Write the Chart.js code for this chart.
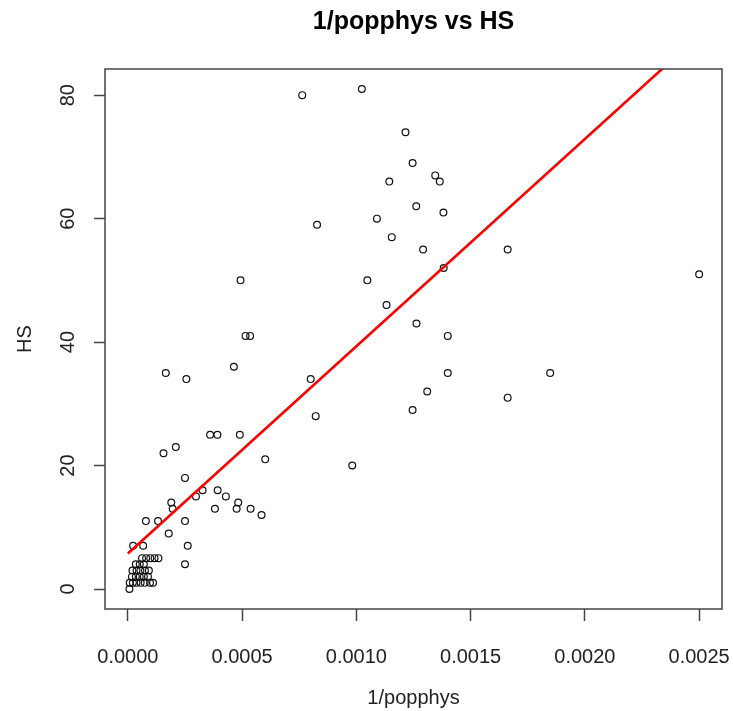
<!DOCTYPE html>
<html>
<head>
<meta charset="utf-8">
<script src="https://cdn.jsdelivr.net/npm/chart.js@4"></script>
<style>
  body { margin: 0; background: #fff; }
  #wrap { width: 733px; height: 711px; }
</style>
</head>
<body>
<div id="wrap"><canvas id="chart" width="733" height="711"></canvas></div>
<script>
// 1/popphys (x) and HS (y)
const popX = [
  0.000763, 0.001024, 0.001215, 0.001246, 0.001345, 0.001365, 0.001144, 0.001262,
  0.001381, 0.001090, 0.000828, 0.001155, 0.001292, 0.001662, 0.0025, 0.001382,
  0.000493, 0.001048, 0.001132, 0.000515, 0.000535, 0.001400, 0.001263, 0.000166,
  0.001400, 0.001848, 0.000256, 0.000800, 0.000464, 0.001310, 0.001662, 0.001246,
  0.000822, 0.000360, 0.000392, 0.000490, 0.000156, 0.000210, 0.000982, 0.000601,
  0.000250, 0.000327, 0.000393, 0.000298, 0.000429, 0.000190, 0.000483, 0.000196,
  0.000381, 0.000476, 0.000537, 0.000585, 0.000079, 0.000132, 0.000250, 0.000179,
  0.000023, 0.000067, 0.000262, 0.000250,
  0.000062, 0.000080, 0.000098, 0.000117, 0.000134,
  0.000035, 0.000052, 0.000070,
  0.000020, 0.000038, 0.000055, 0.000075, 0.000092,
  0.000018, 0.000035, 0.000052, 0.000070, 0.000088,
  0.000008, 0.000022, 0.000038, 0.000056, 0.000074, 0.000097, 0.000110,
  0.000007
];
const hsY = [
  80, 81, 74, 69, 67, 66, 66, 62,
  61, 60, 59, 57, 55, 55, 51, 52,
  50, 50, 46, 41, 41, 41, 43, 35,
  35, 35, 34, 34, 36, 32, 31, 29,
  28, 25, 25, 25, 22, 23, 20, 21,
  18, 16, 16, 15, 15, 14, 14, 13,
  13, 13, 13, 12, 11, 11, 11, 9,
  7, 7, 7, 4,
  5, 5, 5, 5, 5,
  4, 4, 4,
  3, 3, 3, 3, 3,
  2, 2, 2, 2, 2,
  1, 1, 1, 1, 1, 1, 1,
  0
];

// fitted line end points
const fitX = [0, 0.0025];
const fitY = [5.75, 89.7];

const tickX = [0, 0.0005, 0.001, 0.0015, 0.002, 0.0025];
const tickY = [0, 20, 40, 60, 80];

const points = popX.map((x, i) => ({ x: x, y: hsY[i] }));
const fitLine = fitX.map((x, i) => ({ x: x, y: fitY[i] }));

const FONT = "'Liberation Sans', Arial, sans-serif";

// box around plot + rotated y tick labels (R style)
const rPlotBits = {
  id: 'rPlotBits',
  afterDraw(chart) {
    const { ctx, chartArea } = chart;
    const ys = chart.scales.y;
    ctx.save();
    ctx.strokeStyle = '#444';
    ctx.lineWidth = 1.5;
    ctx.strokeRect(chartArea.left, chartArea.top,
      chartArea.right - chartArea.left, chartArea.bottom - chartArea.top);

    ctx.fillStyle = '#222';
    ctx.font = '20px ' + FONT;
    ctx.textAlign = 'center';
    ctx.textBaseline = 'middle';
    tickY.forEach(v => {
      const py = ys.getPixelForValue(v);
      ctx.save();
      ctx.translate(68, py);
      ctx.rotate(-Math.PI / 2);
      ctx.fillText(String(v), 0, 0);
      ctx.restore();
    });
    ctx.restore();
  }
};

new Chart(document.getElementById('chart'), {
  type: 'scatter',
  data: {
    datasets: [
      {
        label: 'fit',
        data: fitLine,
        showLine: true,
        borderColor: '#ff0000',
        borderWidth: 2.6,
        pointRadius: 0,
        clip: 0,
        order: 0
      },
      {
        label: 'HS',
        data: points,
        pointRadius: 3.4,
        pointBorderWidth: 1.2,
        pointBorderColor: '#111',
        pointBackgroundColor: 'rgba(0,0,0,0)',
        order: 1
      }
    ]
  },
  options: {
    responsive: false,
    animation: false,
    layout: { padding: { left: 0, right: 11, top: 0, bottom: 0 } },
    plugins: {
      legend: { display: false },
      tooltip: { enabled: false },
      title: {
        display: true,
        text: '1/popphys vs HS',
        fullSize: false,
        color: '#000',
        font: { family: FONT, size: 25, weight: 'bold' },
        padding: { top: 7, bottom: 32 }
      }
    },
    scales: {
      x: {
        type: 'linear',
        position: 'bottom',
        min: -0.0001,
        max: 0.0026,
        afterBuildTicks: s => { s.ticks = tickX.map(v => ({ value: v })); },
        afterFit: s => { s.height = 102; s.paddingLeft = 0; s.paddingRight = 0; },
        border: { display: false },
        grid: {
          drawOnChartArea: false,
          drawTicks: true,
          tickLength: 12,
          tickColor: '#444',
          tickWidth: 1.5
        },
        ticks: {
          color: '#222',
          font: { family: FONT, size: 20 },
          padding: 24,
          maxRotation: 0,
          autoSkip: false,
          callback: v => Number(v).toFixed(4)
        },
        title: {
          display: true,
          text: '1/popphys',
          color: '#222',
          font: { family: FONT, size: 20 },
          padding: { top: 0, bottom: 1 }
        }
      },
      y: {
        type: 'linear',
        min: -3.24,
        max: 84.24,
        afterBuildTicks: s => { s.ticks = tickY.map(v => ({ value: v })); },
        afterFit: s => { s.width = 105; s.paddingTop = 0; s.paddingBottom = 0; },
        border: { display: false },
        grid: {
          drawOnChartArea: false,
          drawTicks: true,
          tickLength: 11,
          tickColor: '#444',
          tickWidth: 1.5
        },
        ticks: { display: false },
        title: {
          display: true,
          text: 'HS',
          color: '#222',
          font: { family: FONT, size: 20 },
          padding: { top: 13, bottom: 0 }
        }
      }
    }
  },
  plugins: [rPlotBits]
});
</script>
</body>
</html>
